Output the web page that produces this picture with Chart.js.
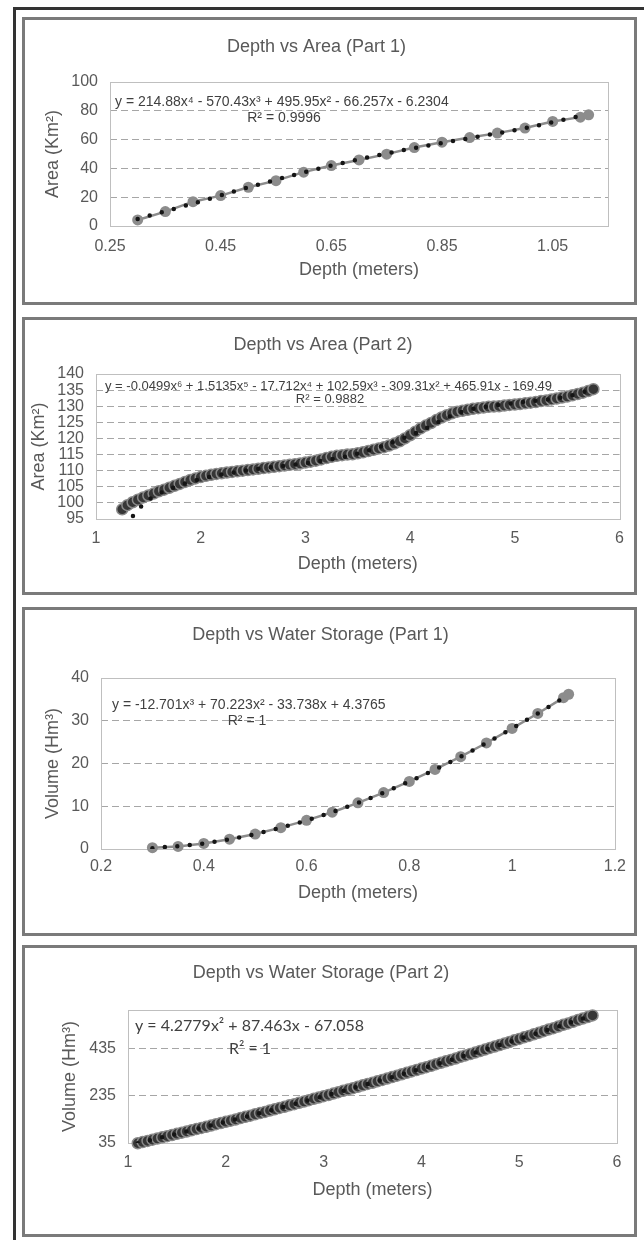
<!DOCTYPE html>
<html lang="en">
<head>
<meta charset="UTF-8">
<title>Depth vs Area / Water Storage</title>
<script src="https://cdn.jsdelivr.net/npm/chart.js"></script>
<style>
  html, body { margin: 0; height: 1240px; overflow: hidden; background: #fff; }
  #frame {
    position: absolute; left: 13px; top: 7px; right: 0; bottom: 0;
    border-left: 3px solid #333; border-top: 3px solid #333;
  }
  .panel { position: absolute; left: 22px; border: 3px solid #7a7a7a; background: #fff; }
  .panel canvas { display: block; }
</style>
</head>
<body>
<div id="frame"></div>
<div class="panel" style="top:17px"><canvas id="c1" width="609" height="282"></canvas></div>
<div class="panel" style="top:317px"><canvas id="c2" width="609" height="272"></canvas></div>
<div class="panel" style="top:607px"><canvas id="c3" width="609" height="323"></canvas></div>
<div class="panel" style="top:945px"><canvas id="c4" width="609" height="286"></canvas></div>

<script>
// ---------- Depth vs Area (Part 1) ----------
const depth1 = [0.30, 0.35, 0.40, 0.45, 0.50, 0.55, 0.60, 0.65, 0.70, 0.75, 0.80, 0.85, 0.90, 0.95, 1.00, 1.05, 1.10, 1.115];
const area1 = [4.2, 10.0, 16.9, 21.1, 26.9, 31.5, 37.4, 42.0, 45.9, 49.9, 54.5, 58.2, 61.4, 64.5, 68.0, 72.6, 75.6, 77.2];
const trendDepth1 = [0.30, 0.40, 0.50, 0.60, 0.70, 0.80, 0.90, 1.00, 1.10];
const trendArea1 = [4.9, 15.6, 26.8, 37.2, 46.3, 54.1, 61.0, 67.9, 76.4];
const xTicks1 = [0.25, 0.45, 0.65, 0.85, 1.05];
const yTicks1 = [0, 20, 40, 60, 80, 100];

// ---------- Depth vs Area (Part 2) ----------
const depth2 = [
  1.25, 1.30, 1.35, 1.40, 1.45, 1.50, 1.55, 1.60, 1.65, 1.70,
  1.75, 1.80, 1.85, 1.90, 1.95, 2.00, 2.05, 2.10, 2.15, 2.20,
  2.25, 2.30, 2.35, 2.40, 2.45, 2.50, 2.55, 2.60, 2.65, 2.70,
  2.75, 2.80, 2.85, 2.90, 2.95, 3.00, 3.05, 3.10, 3.15, 3.20,
  3.25, 3.30, 3.35, 3.40, 3.45, 3.50, 3.55, 3.60, 3.65, 3.70,
  3.75, 3.80, 3.85, 3.90, 3.95, 4.00, 4.05, 4.10, 4.15, 4.20,
  4.25, 4.30, 4.35, 4.40, 4.45, 4.50, 4.55, 4.60, 4.65, 4.70,
  4.75, 4.80, 4.85, 4.90, 4.95, 5.00, 5.05, 5.10, 5.15, 5.20,
  5.25, 5.30, 5.35, 5.40, 5.45, 5.50, 5.55, 5.60, 5.65, 5.70,
  5.75
];
const area2 = [
  98.0, 99.3, 100.2, 101.0, 101.7, 102.3, 102.9, 103.6, 104.1, 104.7,
  105.3, 105.9, 106.5, 107.1, 107.6, 108.0, 108.4, 108.7, 109.0, 109.2,
  109.4, 109.6, 109.8, 110.0, 110.2, 110.4, 110.6, 110.8, 111.0, 111.2,
  111.4, 111.6, 111.8, 112.0, 112.2, 112.5, 112.8, 113.1, 113.5, 113.9,
  114.3, 114.6, 114.8, 115.0, 115.1, 115.4, 115.7, 116.1, 116.5, 116.9,
  117.3, 117.8, 118.4, 119.1, 120.0, 121.0, 122.1, 123.1, 124.0, 124.8,
  125.7, 126.5, 127.2, 127.8, 128.3, 128.6, 128.9, 129.2, 129.4, 129.6,
  129.8, 129.9, 130.0, 130.2, 130.4, 130.5, 130.7, 130.9, 131.1, 131.3,
  131.6, 131.8, 132.1, 132.4, 132.7, 133.0, 133.4, 133.8, 134.2, 134.7,
  135.3
];
const trendDepth2 = [1.22, 1.30, 1.35, 1.40, 1.50, 1.75, 2.00, 2.50, 3.00, 3.50, 4.00, 4.50, 5.00, 5.50, 5.75];
const trendArea2 = [89.5, 93.9, 95.8, 97.8, 100.9, 104.9, 107.4, 110.4, 112.3, 115.3, 120.9, 128.3, 131.0, 133.0, 135.4];
const xTicks2 = [1, 2, 3, 4, 5, 6];
const yTicks2 = [95, 100, 105, 110, 115, 120, 125, 130, 135, 140];

// ---------- Depth vs Water Storage (Part 1) ----------
const depth3 = [0.30, 0.35, 0.40, 0.45, 0.50, 0.55, 0.60, 0.65, 0.70, 0.75, 0.80, 0.85, 0.90, 0.95, 1.00, 1.05, 1.10, 1.11];
const vol3 = [0.3, 0.6, 1.3, 2.3, 3.5, 5.0, 6.7, 8.6, 10.8, 13.2, 15.8, 18.6, 21.6, 24.8, 28.2, 31.7, 35.4, 36.2];
const trendDepth3 = [0.30, 0.40, 0.50, 0.60, 0.70, 0.80, 0.90, 1.00, 1.10];
const trendVol3 = [0.2, 1.3, 3.5, 6.7, 10.8, 15.8, 21.6, 28.2, 35.3];
const xTicks3 = [0.2, 0.4, 0.6, 0.8, 1, 1.2];
const yTicks3 = [0, 10, 20, 30, 40];

// ---------- Depth vs Water Storage (Part 2) ----------
const depth4 = [
  1.10, 1.15, 1.20, 1.25, 1.30, 1.35, 1.40, 1.45, 1.50, 1.55,
  1.60, 1.65, 1.70, 1.75, 1.80, 1.85, 1.90, 1.95, 2.00, 2.05,
  2.10, 2.15, 2.20, 2.25, 2.30, 2.35, 2.40, 2.45, 2.50, 2.55,
  2.60, 2.65, 2.70, 2.75, 2.80, 2.85, 2.90, 2.95, 3.00, 3.05,
  3.10, 3.15, 3.20, 3.25, 3.30, 3.35, 3.40, 3.45, 3.50, 3.55,
  3.60, 3.65, 3.70, 3.75, 3.80, 3.85, 3.90, 3.95, 4.00, 4.05,
  4.10, 4.15, 4.20, 4.25, 4.30, 4.35, 4.40, 4.45, 4.50, 4.55,
  4.60, 4.65, 4.70, 4.75, 4.80, 4.85, 4.90, 4.95, 5.00, 5.05,
  5.10, 5.15, 5.20, 5.25, 5.30, 5.35, 5.40, 5.45, 5.50, 5.55,
  5.60, 5.65, 5.70, 5.75
];
const vol4 = [
  34, 39, 44, 49, 54, 59, 64, 69, 74, 79,
  84, 89, 94, 99, 104, 109, 115, 120, 125, 130,
  135, 141, 146, 151, 157, 162, 167, 173, 178, 184,
  189, 195, 200, 206, 211, 217, 223, 228, 234, 239,
  245, 251, 257, 262, 268, 274, 280, 286, 291, 297,
  303, 309, 315, 321, 327, 333, 339, 345, 351, 357,
  363, 370, 376, 382, 388, 394, 401, 407, 413, 419,
  426, 432, 439, 445, 451, 458, 464, 471, 477, 484,
  490, 497, 503, 510, 517, 523, 530, 537, 543, 550,
  557, 564, 570, 577
];
const trendDepth4 = [1.10, 2.00, 3.00, 4.00, 5.00, 5.75];
const trendVol4 = [34, 125, 234, 351, 477, 577];
const xTicks4 = [1, 2, 3, 4, 5, 6];
const yTicks4 = [35, 235, 435];

const FONT = '"Liberation Sans", Arial, sans-serif';
const TXT = '#595959';
const LH = 18 * 1.2;

const pts = (xs, ys) => xs.map((x, i) => ({ x: x, y: ys[i] }));
const fmt = v => String(Math.round(v * 100) / 100);

// light grey border round the plot area
const plotFrame = {
  id: 'plotFrame',
  beforeDatasetsDraw(chart) {
    const { ctx, chartArea: a } = chart;
    ctx.save();
    ctx.strokeStyle = '#bfbfbf';
    ctx.lineWidth = 1;
    ctx.strokeRect(Math.round(a.left) + 0.5, Math.round(a.top) + 0.5,
      Math.round(a.right - a.left), Math.round(a.bottom - a.top));
    ctx.restore();
  }
};

// trendline equation labels
const equation = {
  id: 'equation',
  afterDatasetsDraw(chart, args, opts) {
    const ctx = chart.ctx;
    ctx.save();
    ctx.fillStyle = '#404040';
    ctx.font = opts.font;
    ctx.textBaseline = 'middle';
    opts.lines.forEach(l => {
      ctx.textAlign = l.align;
      ctx.fillText(l.text, l.x, l.y);
    });
    ctx.restore();
  }
};

function trendSet(xs, ys) {
  return {
    data: pts(xs, ys), showLine: true, pointRadius: 0,
    borderColor: '#151515', borderWidth: 4.5, borderDash: [0, 12.5], borderCapStyle: 'round',
    cubicInterpolationMode: 'monotone'
  };
}
function greySet(xs, ys) {
  return {
    data: pts(xs, ys), showLine: true, borderColor: '#8c8c8c', borderWidth: 2.5,
    pointRadius: 5.5, pointBackgroundColor: '#8c8c8c', pointBorderWidth: 0, clip: 8
  };
}
function darkSet(xs, ys) {
  return {
    data: pts(xs, ys), showLine: false,
    pointRadius: 5.5, pointBackgroundColor: '#363636', pointBorderColor: '#8a8a8a', pointBorderWidth: 1.5, clip: 8
  };
}

function panelChart(id, p) {
  const canvas = document.getElementById(id);
  const W = canvas.width, H = canvas.height;
  const [L, T, R, B] = p.plot;
  const xH = p.xTitleY + LH / 2 - B;
  return new Chart(canvas, {
    type: 'scatter',
    data: { datasets: p.datasets },
    options: {
      responsive: false,
      animation: false,
      layout: { padding: { left: 0, top: 0, right: W - R, bottom: H - B - xH } },
      plugins: {
        legend: { display: false },
        tooltip: { enabled: false },
        title: {
          display: true, text: p.title, color: TXT,
          font: { family: FONT, size: 18, weight: 'normal' },
          padding: { top: p.titleY - LH / 2, bottom: T - p.titleY - LH / 2 }
        },
        equation: { lines: p.eq, font: p.eqFont }
      },
      scales: {
        x: {
          type: 'linear', min: p.xMin, max: p.xMax,
          afterBuildTicks: s => { s.ticks = p.xTicks.map(v => ({ value: v })); },
          afterFit: s => { s.height = xH; },
          grid: { display: false, drawTicks: false },
          border: { display: false },
          ticks: { padding: p.xTickPad, color: TXT, font: { family: FONT, size: 16 }, autoSkip: false, maxRotation: 0, callback: fmt },
          title: { display: true, text: 'Depth (meters)', color: TXT, font: { family: FONT, size: 18 }, padding: { top: 0, bottom: 0 } }
        },
        y: {
          type: 'linear', min: p.yMin, max: p.yMax,
          afterBuildTicks: s => { s.ticks = p.yTicks.map(v => ({ value: v })); },
          afterFit: s => { s.width = L; },
          grid: {
            drawTicks: false,
            color: c => (c.tick && (c.tick.value === p.yMin || c.tick.value === p.yMax)) ? 'rgba(0,0,0,0)' : '#a6a6a6'
          },
          border: { display: false, dash: [7, 4] },
          ticks: { padding: 12, color: TXT, font: { family: FONT, size: 16 }, autoSkip: false, callback: fmt },
          title: { display: true, text: p.yTitle, color: TXT, font: { family: FONT, size: 18 }, padding: { top: p.yTitleX - LH / 2, bottom: 0 } }
        }
      }
    },
    plugins: [plotFrame, equation]
  });
}

panelChart('c1', {
  title: 'Depth vs Area (Part 1)', yTitle: 'Area (Km²)',
  plot: [85, 62, 583, 206], titleY: 27, yTitleX: 28, xTickPad: 11, xTitleY: 250,
  xMin: 0.25, xMax: 1.15, xTicks: xTicks1, yMin: 0, yMax: 100, yTicks: yTicks1,
  datasets: [trendSet(trendDepth1, trendArea1), greySet(depth1, area1)],
  eqFont: '14px ' + FONT,
  eq: [
    { text: 'y = 214.88x⁴ - 570.43x³ + 495.95x² - 66.257x - 6.2304', x: 90, y: 82, align: 'left' },
    { text: 'R² = 0.9996', x: 259, y: 98, align: 'center' }
  ]
});

panelChart('c2', {
  title: 'Depth vs Area (Part 2)', yTitle: 'Area (Km²)',
  plot: [71, 54, 596, 199], titleY: 25, yTitleX: 14, xTickPad: 10, xTitleY: 244,
  xMin: 1, xMax: 6, xTicks: xTicks2, yMin: 95, yMax: 140, yTicks: yTicks2,
  datasets: [trendSet(trendDepth2, trendArea2), darkSet(depth2, area2)],
  eqFont: '13px ' + FONT,
  eq: [
    { text: 'y = -0.0499x⁶ + 1.5135x⁵ - 17.712x⁴ + 102.59x³ - 309.31x² + 465.91x - 169.49', x: 80, y: 66, align: 'left' },
    { text: 'R² = 0.9882', x: 305, y: 79, align: 'center' }
  ]
});

panelChart('c3', {
  title: 'Depth vs Water Storage (Part 1)', yTitle: 'Volume (Hm³)',
  plot: [76, 68, 591, 239], titleY: 25, yTitleX: 27.6, xTickPad: 8, xTitleY: 283,
  xMin: 0.2, xMax: 1.2, xTicks: xTicks3, yMin: 0, yMax: 40, yTicks: yTicks3,
  datasets: [trendSet(trendDepth3, trendVol3), greySet(depth3, vol3)],
  eqFont: '14px ' + FONT,
  eq: [
    { text: 'y = -12.701x³ + 70.223x² - 33.738x + 4.3765', x: 87, y: 95, align: 'left' },
    { text: 'R² = 1', x: 222, y: 111, align: 'center' }
  ]
});

panelChart('c4', {
  title: 'Depth vs Water Storage (Part 2)', yTitle: 'Volume (Hm³)',
  plot: [103, 62, 592, 195], titleY: 25, yTitleX: 45, xTickPad: 10, xTitleY: 242,
  xMin: 1, xMax: 6, xTicks: xTicks4, yMin: 35, yMax: 600, yTicks: yTicks4,
  datasets: [trendSet(trendDepth4, trendVol4), darkSet(depth4, vol4)],
  eqFont: '16px Lato, "Open Sans", sans-serif',
  eq: [
    { text: 'y = 4.2779x² + 87.463x - 67.058', x: 110, y: 78, align: 'left' },
    { text: 'R² = 1', x: 225, y: 101, align: 'center' }
  ]
});
</script>
</body>
</html>
